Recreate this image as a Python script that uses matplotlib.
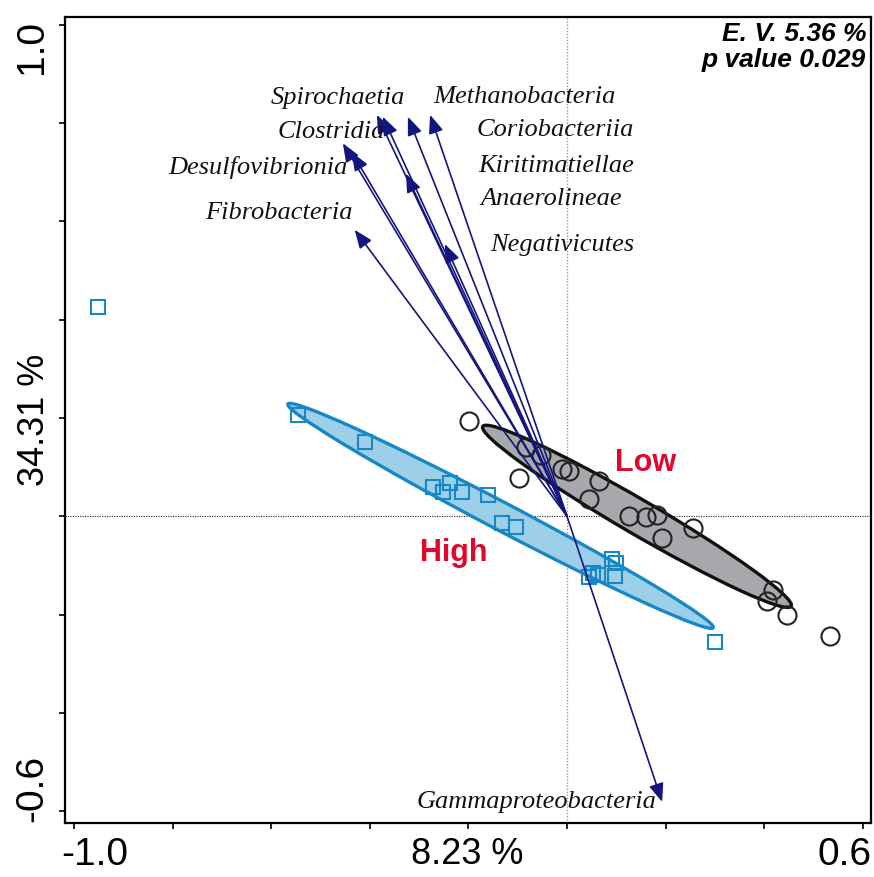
import matplotlib
matplotlib.use("Agg")
import matplotlib.pyplot as plt
from matplotlib.patches import Ellipse
from matplotlib.transforms import ScaledTranslation, blended_transform_factory

# Sample scores on the two ordination axes
high_x = [-0.952, -0.546, -0.411, -0.272, -0.251, -0.237, -0.213, -0.160, -0.132,
          -0.103, 0.045, 0.053, 0.063, 0.091, 0.099, 0.097, 0.301]
high_y = [0.426, 0.207, 0.152, 0.060, 0.050, 0.068, 0.050, 0.044, -0.013,
          -0.021, -0.123, -0.115, -0.119, -0.086, -0.095, -0.121, -0.255]
low_x = [-0.199, -0.097, -0.083, -0.053, -0.010, 0.004, 0.045, 0.065, 0.126,
         0.160, 0.183, 0.193, 0.256, 0.406, 0.418, 0.447, 0.534]
low_y = [0.194, 0.078, 0.141, 0.125, 0.097, 0.093, 0.036, 0.072, 0.001,
         -0.001, 0.003, -0.044, -0.023, -0.172, -0.150, -0.200, -0.243]

# Group ellipses: centre, full axis lengths, rotation (degrees)
high_ell = {"xy": (-0.135, 0.001), "width": 0.976, "height": 0.056, "angle": -27.8}
low_ell = {"xy": (0.142, 0.000), "width": 0.725, "height": 0.070, "angle": -30.3}

# Taxa (class level) loadings
taxa = ["Spirochaetia", "Kiritimatiellae", "Coriobacteriia", "Methanobacteria",
        "Clostridia", "Desulfovibrionia", "Fibrobacteria", "Anaerolineae",
        "Negativicutes", "Gammaproteobacteria"]
load_x = [-0.386, -0.374, -0.323, -0.278, -0.455, -0.437, -0.431, -0.327, -0.248, 0.193]
load_y = [0.817, 0.813, 0.813, 0.817, 0.759, 0.741, 0.583, 0.697, 0.554, -0.581]
# label anchor (centre) for each taxon
lab_x = [-0.465, -0.022, -0.024, -0.087, -0.478, -0.628, -0.585, -0.033, -0.010, -0.061]
lab_y = [0.852, 0.713, 0.786, 0.854, 0.782, 0.709, 0.617, 0.646, 0.552, -0.581]

group_names = ["High", "Low"]
x_title = "8.23 %"
y_title = "34.31 %"
x_ticks = [-1.0, -0.8, -0.6, -0.4, -0.2, 0.0, 0.2, 0.4, 0.6]
y_ticks = [-0.6, -0.4, -0.2, 0.0, 0.2, 0.4, 0.6, 0.8, 1.0]
x_ticklabels = ["-1.0", "0.6"]
y_ticklabels = ["-0.6", "1.0"]
stats_text = ["E. V. 5.36 %", "p value 0.029"]

BLUE = "#1887c5"
BLUE_FILL = "#9dd0e8"
GREY_FILL = "#a7a8ac"
NAVY = "#15157f"
RED = "#e2062c"

fig = plt.figure(figsize=(8.74, 8.77), dpi=100)
ax = fig.add_axes([65 / 874, 54 / 877, 806 / 874, 806 / 877])
ax.set_xlim(-1.019, 0.617)
ax.set_ylim(-0.624, 1.016)

for side in ax.spines.values():
    side.set_linewidth(1.6)
    side.set_color("black")

ax.set_xticks(x_ticks)
ax.set_yticks(y_ticks)
ax.tick_params(direction="out", length=4, width=1.2, color="black",
               labelbottom=False, labelleft=False)

# reference lines through the origin
ax.axvline(0, color="#9a9a9a", lw=1.0, ls=(0, (1, 1.2)), zorder=0.5)
ax.axhline(0, color="#222222", lw=0.8, ls=(0, (1, 1.2)), zorder=0.5)

# group ellipses
ax.add_patch(Ellipse(**high_ell, facecolor=BLUE_FILL, edgecolor=BLUE, lw=2.4, zorder=1))
ax.add_patch(Ellipse(**low_ell, facecolor=GREY_FILL, edgecolor="#111111", lw=2.4, zorder=1))

# samples
ax.plot(high_x, high_y, ls="none", marker="s", ms=10.5, mfc="none", mec=BLUE, mew=1.5, zorder=2)
ax.plot(low_x, low_y, ls="none", marker="o", ms=13, mfc="none", mec="#222222", mew=1.5, zorder=2)

# taxa arrows
for tx, ty in zip(load_x, load_y):
    ax.annotate("", xy=(tx, ty), xytext=(0, 0),
                arrowprops=dict(arrowstyle="-|>,head_length=0.7,head_width=0.28",
                                mutation_scale=16, color=NAVY, lw=1.2,
                                shrinkA=0, shrinkB=0),
                zorder=3)

for name, lx, ly in zip(taxa, lab_x, lab_y):
    ax.text(lx, ly, name, ha="center", va="center", fontsize=19,
            family="Liberation Serif", style="italic", color="#111111", zorder=4)

# group names
ax.text(-0.229, -0.074, group_names[0], ha="center", va="center", fontsize=22,
        family="Liberation Sans", weight="bold", color=RED, zorder=4)
ax.text(0.160, 0.109, group_names[1], ha="center", va="center", fontsize=22,
        family="Liberation Sans", weight="bold", color=RED, zorder=4)

# test statistics
ax.text(0.994, 0.979, stats_text[0], transform=ax.transAxes, ha="right", va="center",
        fontsize=19, family="Liberation Sans", weight="bold", style="italic")
ax.text(0.994, 0.947, stats_text[1], transform=ax.transAxes, ha="right", va="center",
        fontsize=19, family="Liberation Sans", weight="bold", style="italic")

# end tick labels
sans = "Liberation Sans"
xt = blended_transform_factory(ax.transData, ax.transAxes)
yt = blended_transform_factory(ax.transAxes, ax.transData)
ax.text(x_ticks[0], -0.017, x_ticklabels[0], transform=xt + ScaledTranslation(-13 / 100, 0, fig.dpi_scale_trans),
        ha="left", va="top", fontsize=28, family=sans)
ax.text(x_ticks[-1], -0.017, x_ticklabels[1], transform=xt + ScaledTranslation(9 / 100, 0, fig.dpi_scale_trans),
        ha="right", va="top", fontsize=28, family=sans)
ax.text(-0.018, y_ticks[0], y_ticklabels[0], transform=yt + ScaledTranslation(0, -11 / 100, fig.dpi_scale_trans),
        ha="right", va="bottom", rotation=90, fontsize=28, family=sans)
ax.text(-0.018, y_ticks[-1], y_ticklabels[1], transform=yt + ScaledTranslation(0, 5 / 100, fig.dpi_scale_trans),
        ha="right", va="top", rotation=90, fontsize=28, family=sans)

# axis titles
fig.text(467 / 874, 1 - 854 / 877, x_title, ha="center", va="center", fontsize=26, family=sans)
fig.text(35 / 874, 1 - 420 / 877, y_title, ha="center", va="center", rotation=90, fontsize=26, family=sans)

fig.savefig("out.png", dpi=100)
